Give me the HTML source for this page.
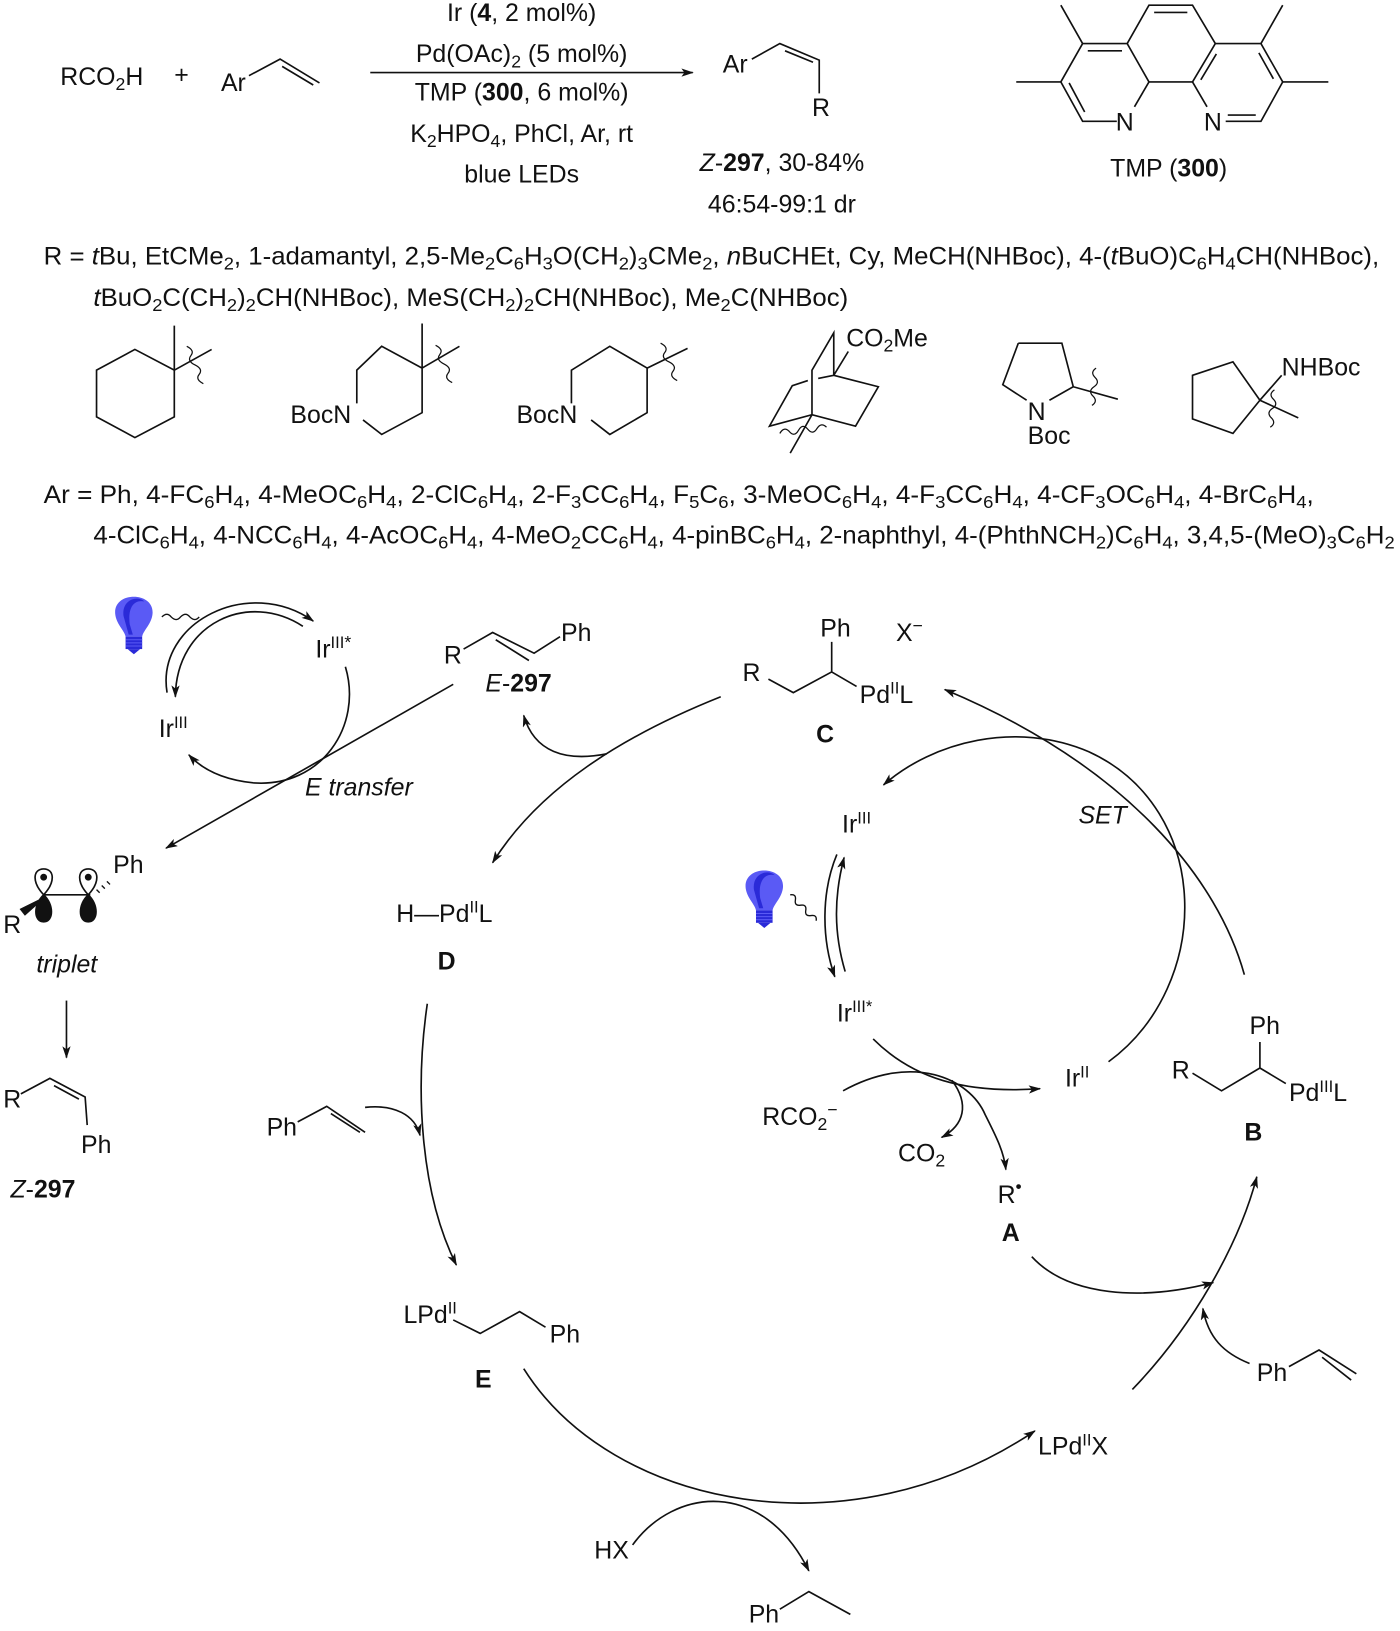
<!DOCTYPE html>
<html><head><meta charset="utf-8"><style>
html,body{margin:0;padding:0;background:#fff}
svg{display:block}
text{font-family:"Liberation Sans",Arial,sans-serif;font-size:24px;fill:#111}
.b{font-weight:bold}.i{font-style:italic}
</style></head><body>
<svg width="1400" height="1631" viewBox="0 0 1350 1573" xmlns="http://www.w3.org/2000/svg">
<defs>
<marker id="ah" viewBox="0 0 12 8" refX="11" refY="4" markerWidth="12" markerHeight="8" markerUnits="userSpaceOnUse" orient="auto"><path d="M0,0 L12,4 L0,8 L3,4 z" fill="#111"/></marker>
<g id="bulb"><path d="M-18,-6 C-20,-28 20,-28 18,-6 C17,4 9,10 8,16 L-8,16 C-9,10 -17,4 -18,-6 z" fill="#5a5af5"/><path d="M-10,-4 C-12,-20 4,-24 10,-18 C0,-20 -6,-12 -4,4 L-1,14 L-5,14 z" fill="#2a2ad8"/><rect x="-8" y="16" width="16" height="12" fill="#2a2ad8"/><path d="M-8,19 H8 M-8,22 H8 M-8,25 H8" stroke="#5a5af5" stroke-width="1"/><path d="M-6,28 L0,33 L6,28 z" fill="#2a2ad8"/></g>
</defs>
<g stroke="#111" stroke-width="1.6" fill="none">
<path d="M240,73 L270,57 L308,80 M272,64 L302,82"/>
<path d="M357,70 L668,70" marker-end="url(#ah)"/>
<path d="M725,57 L752,42 L790,58 L790,90 M757,49 L784,60"/>
<path d="M1044,42 L1087,42 L1108,79 M1094,103 L1108,79 M1077,117 L1044,117 L1023,79 L1044,42 M1049,49 L1082,49 M1031,80 L1046,108"/>
<path d="M1087,42 L1108,5 L1150,5 L1172,42 M1113,12 L1145,12 M1108,79 L1150,79"/>
<path d="M1172,42 L1216,42 L1237,79 L1216,117 L1182,117 M1150,79 L1164,103 M1150,79 L1172,42 M1214,51 L1228,76 M1184,111 L1211,111 M1158,77 L1173,52"/>
<path d="M1044,42 L1023,5 M1023,79 L980,79 M1216,42 L1237,5 M1237,79 L1281,79"/>
<path d="M130,337 L168,357 L168,402 L130,422 L93,402 L93,357 z M168,357 L168,314 M168,357 L204,337"/>
<path d="M180,334 q8,4 4,9 q-4,5 4,9 q8,4 4,9 q-4,5 4,9" stroke-width="1.2"/>
<path d="M344,389 L344,357 L368,334 L407,355 L407,398 L368,419 L350,405 M407,355 L407,312 M407,355 L443,334"/>
<path d="M420,333 q8,4 4,9 q-4,5 4,9 q8,4 4,9 q-4,5 4,9" stroke-width="1.2"/>
<path d="M551,389 L551,357 L588,334 L624,355 L624,398 L588,419 L570,405 M624,355 L663,336"/>
<path d="M637,331 q8,4 4,9 q-4,5 4,9 q8,4 4,9 q-4,5 4,9" stroke-width="1.2"/>
<path d="M804,362 L804,321 L783,357 L783,400 M804,362 L847,373 L825,411 L783,400 L742,411 L764,372 L779,367 M789,365 L804,362 M804,362 L818,339 M783,400 L762,437"/>
<path d="M752,418 q4,-7 9,-2 q5,6 9,-1 q4,-7 9,-1 q5,6 9,-1 q4,-6 9,-1" stroke-width="1.2"/>
<path d="M982,331 L1024,331 L1035,373 L1012,386 M990,386 L967,371 L982,331 M1035,373 L1078,385"/>
<path d="M1057,355 q-6,4 -1,9 q5,5 -1,9 q-6,4 -1,9 q5,5 -1,9" stroke-width="1.2"/>
<path d="M1150,362 L1189,349 L1215,386 L1189,418 L1150,404 z M1215,386 L1236,362 M1215,386 L1252,403"/>
<path d="M1229,376 q-6,4 -1,9 q5,5 -1,9 q-6,4 -1,9 q5,5 -1,9" stroke-width="1.2"/>

<path d="M156,595 q5,-5 9,0 q5,5 9,0 q5,-5 9,0 q5,5 9,0" stroke-width="1.3"/>
<path d="M161,668 C150,600 240,555 302,599" marker-end="url(#ah)"/>
<path d="M292,604 C240,570 170,600 169,672" marker-end="url(#ah)"/>
<path d="M333,643 C350,700 310,760 244,755 C215,752 195,742 182,728" marker-end="url(#ah)"/>
<path d="M437,660 L160,818" marker-end="url(#ah)"/>
<path d="M42,863 L87,863"/>
<path d="M42,863 C30,850 32,838 42,838 C52,838 54,850 42,863 z M85,863 C73,850 75,838 85,838 C95,838 97,850 85,863 z" fill="#fff"/>
<path d="M42,863 C52,872 52,889 42,889 C32,889 32,872 42,863 z M85,863 C95,872 95,889 85,889 C75,889 75,872 85,863 z" fill="#111"/>
<circle cx="42" cy="846" r="2.5" fill="#111"/><circle cx="85" cy="846" r="2.5" fill="#111"/>
<path d="M42,866 L24,882 L20,877 z" fill="#111"/>
<path d="M93,858 l3,3 M98,854 l3,3 M103,850 l3,3" stroke-width="1.3"/>
<path d="M64,965 L64,1020" marker-end="url(#ah)"/>
<path d="M20,1055 L48,1040 L82,1058 L84,1085 M52,1047 L76,1060"/>
<path d="M447,626 L475,610 L515,630 L540,614 M478,617 L510,637"/>
<path d="M585,727 C545,735 515,725 505,690" marker-end="url(#ah)"/>
<path d="M695,672 C600,710 520,760 475,832" marker-end="url(#ah)"/>
<path d="M741,655 L765,668 L802,648 L826,662 M802,648 L802,619"/>
<path d="M1200,940 C1175,850 1090,740 911,665" marker-end="url(#ah)"/>
<path d="M1069,1024 C1170,950 1170,780 1050,725 C980,695 900,715 852,757" marker-end="url(#ah)"/>
<path d="M762,863 q6,-1 5,5 q-1,6 5,5 q6,-1 5,5 q-1,6 5,5 q6,-1 5,5" stroke-width="1.3"/>
<path d="M807,824 C792,860 792,905 805,942" marker-end="url(#ah)"/>
<path d="M815,937 C804,900 804,865 814,827" marker-end="url(#ah)"/>
<path d="M842,1002 C880,1040 930,1055 1003,1050" marker-end="url(#ah)"/>
<path d="M813,1052 C880,1015 935,1040 950,1075 C960,1095 968,1110 970,1128" marker-end="url(#ah)"/>
<path d="M918,1042 C935,1065 930,1085 908,1097" marker-end="url(#ah)"/>
<path d="M995,1212 C1030,1250 1100,1255 1170,1237" marker-end="url(#ah)"/>
<path d="M1150,1035 L1178,1052 L1215,1030 L1240,1045 M1215,1030 L1215,1005"/>
<path d="M1092,1340 C1150,1280 1195,1200 1212,1135" marker-end="url(#ah)"/>
<path d="M1243,1318 L1272,1302 L1308,1325 M1275,1309 L1303,1331"/>
<path d="M1205,1315 C1180,1305 1165,1290 1160,1262" marker-end="url(#ah)"/>
<path d="M412,968 C400,1050 405,1150 440,1220" marker-end="url(#ah)"/>
<path d="M287,1082 L315,1067 L352,1092 M319,1074 L347,1092"/>
<path d="M352,1068 C380,1065 400,1075 405,1095" marker-end="url(#ah)"/>
<path d="M437,1273 L463,1286 L501,1265 L526,1280"/>
<path d="M505,1320 C590,1455 820,1500 998,1380" marker-end="url(#ah)"/>
<path d="M610,1490 C650,1435 735,1425 780,1515" marker-end="url(#ah)"/>
<path d="M752,1552 L780,1535 L820,1557"/>
</g>
<use href="#bulb" x="129" y="598"/>
<use href="#bulb" x="737" y="862"/>

<text x="58" y="82">RCO<tspan font-size="17" dy="5">2</tspan><tspan dy="-5">H</tspan></text>
<text x="168" y="80">+</text>
<text x="213" y="88">Ar</text>
<g text-anchor="middle">
<text x="503" y="20">Ir (<tspan class="b">4</tspan>, 2 mol%)</text>
<text x="503" y="60">Pd(OAc)<tspan font-size="17" dy="5">2</tspan><tspan dy="-5"> (5 mol%)</tspan></text>
<text x="503" y="97">TMP (<tspan class="b">300</tspan>, 6 mol%)</text>
<text x="503" y="137">K<tspan font-size="17" dy="5">2</tspan><tspan dy="-5">HPO</tspan><tspan font-size="17" dy="5">4</tspan><tspan dy="-5">, PhCl, Ar, rt</tspan></text>
<text x="503" y="176">blue LEDs</text>
<text x="754" y="165"><tspan class="i">Z</tspan>-<tspan class="b">297</tspan>, 30-84%</text>
<text x="754" y="205">46:54-99:1 dr</text>
<text x="1127" y="170">TMP (<tspan class="b">300</tspan>)</text>
</g>
<text x="697" y="70">Ar</text>
<text x="783" y="112">R</text>
<text x="1076" y="126">N</text>
<text x="1161" y="126">N</text>

<text x="42" y="255" textLength="1288" lengthAdjust="spacingAndGlyphs">R = <tspan class="i">t</tspan>Bu, EtCMe<tspan font-size="17" dy="5">2</tspan><tspan dy="-5">, 1-adamantyl, 2,5-Me</tspan><tspan font-size="17" dy="5">2</tspan><tspan dy="-5">C</tspan><tspan font-size="17" dy="5">6</tspan><tspan dy="-5">H</tspan><tspan font-size="17" dy="5">3</tspan><tspan dy="-5">O(CH</tspan><tspan font-size="17" dy="5">2</tspan><tspan dy="-5">)</tspan><tspan font-size="17" dy="5">3</tspan><tspan dy="-5">CMe</tspan><tspan font-size="17" dy="5">2</tspan><tspan dy="-5">, </tspan><tspan class="i">n</tspan>BuCHEt, Cy, MeCH(NHBoc), 4-(<tspan class="i">t</tspan>BuO)C<tspan font-size="17" dy="5">6</tspan><tspan dy="-5">H</tspan><tspan font-size="17" dy="5">4</tspan><tspan dy="-5">CH(NHBoc),</tspan></text>
<text x="90" y="295" textLength="728" lengthAdjust="spacingAndGlyphs"><tspan class="i">t</tspan>BuO<tspan font-size="17" dy="5">2</tspan><tspan dy="-5">C(CH</tspan><tspan font-size="17" dy="5">2</tspan><tspan dy="-5">)</tspan><tspan font-size="17" dy="5">2</tspan><tspan dy="-5">CH(NHBoc), MeS(CH</tspan><tspan font-size="17" dy="5">2</tspan><tspan dy="-5">)</tspan><tspan font-size="17" dy="5">2</tspan><tspan dy="-5">CH(NHBoc), Me</tspan><tspan font-size="17" dy="5">2</tspan><tspan dy="-5">C(NHBoc)</tspan></text>

<text x="280" y="408">BocN</text>
<text x="498" y="408">BocN</text>
<text x="816" y="334">CO<tspan font-size="17" dy="5">2</tspan><tspan dy="-5">Me</tspan></text>
<text x="991" y="405">N</text>
<text x="991" y="428">Boc</text>
<text x="1236" y="362">NHBoc</text>

<text x="42" y="485" textLength="1225" lengthAdjust="spacingAndGlyphs">Ar = Ph, 4-FC<tspan font-size="17" dy="5">6</tspan><tspan dy="-5">H</tspan><tspan font-size="17" dy="5">4</tspan><tspan dy="-5">, 4-MeOC</tspan><tspan font-size="17" dy="5">6</tspan><tspan dy="-5">H</tspan><tspan font-size="17" dy="5">4</tspan><tspan dy="-5">, 2-ClC</tspan><tspan font-size="17" dy="5">6</tspan><tspan dy="-5">H</tspan><tspan font-size="17" dy="5">4</tspan><tspan dy="-5">, 2-F</tspan><tspan font-size="17" dy="5">3</tspan><tspan dy="-5">CC</tspan><tspan font-size="17" dy="5">6</tspan><tspan dy="-5">H</tspan><tspan font-size="17" dy="5">4</tspan><tspan dy="-5">, F</tspan><tspan font-size="17" dy="5">5</tspan><tspan dy="-5">C</tspan><tspan font-size="17" dy="5">6</tspan><tspan dy="-5">, 3-MeOC</tspan><tspan font-size="17" dy="5">6</tspan><tspan dy="-5">H</tspan><tspan font-size="17" dy="5">4</tspan><tspan dy="-5">, 4-F</tspan><tspan font-size="17" dy="5">3</tspan><tspan dy="-5">CC</tspan><tspan font-size="17" dy="5">6</tspan><tspan dy="-5">H</tspan><tspan font-size="17" dy="5">4</tspan><tspan dy="-5">, 4-CF</tspan><tspan font-size="17" dy="5">3</tspan><tspan dy="-5">OC</tspan><tspan font-size="17" dy="5">6</tspan><tspan dy="-5">H</tspan><tspan font-size="17" dy="5">4</tspan><tspan dy="-5">, 4-BrC</tspan><tspan font-size="17" dy="5">6</tspan><tspan dy="-5">H</tspan><tspan font-size="17" dy="5">4</tspan><tspan dy="-5">,</tspan></text>
<text x="90" y="524" textLength="1255" lengthAdjust="spacingAndGlyphs">4-ClC<tspan font-size="17" dy="5">6</tspan><tspan dy="-5">H</tspan><tspan font-size="17" dy="5">4</tspan><tspan dy="-5">, 4-NCC</tspan><tspan font-size="17" dy="5">6</tspan><tspan dy="-5">H</tspan><tspan font-size="17" dy="5">4</tspan><tspan dy="-5">, 4-AcOC</tspan><tspan font-size="17" dy="5">6</tspan><tspan dy="-5">H</tspan><tspan font-size="17" dy="5">4</tspan><tspan dy="-5">, 4-MeO</tspan><tspan font-size="17" dy="5">2</tspan><tspan dy="-5">CC</tspan><tspan font-size="17" dy="5">6</tspan><tspan dy="-5">H</tspan><tspan font-size="17" dy="5">4</tspan><tspan dy="-5">, 4-pinBC</tspan><tspan font-size="17" dy="5">6</tspan><tspan dy="-5">H</tspan><tspan font-size="17" dy="5">4</tspan><tspan dy="-5">, 2-naphthyl, 4-(PhthNCH</tspan><tspan font-size="17" dy="5">2</tspan><tspan dy="-5">)C</tspan><tspan font-size="17" dy="5">6</tspan><tspan dy="-5">H</tspan><tspan font-size="17" dy="5">4</tspan><tspan dy="-5">, 3,4,5-(MeO)</tspan><tspan font-size="17" dy="5">3</tspan><tspan dy="-5">C</tspan><tspan font-size="17" dy="5">6</tspan><tspan dy="-5">H</tspan><tspan font-size="17" dy="5">2</tspan></text>

<text x="304" y="634">Ir<tspan font-size="16" dy="-9">III</tspan><tspan font-size="17">*</tspan></text>
<text x="153" y="711">Ir<tspan font-size="16" dy="-9">III</tspan></text>
<text x="294" y="767" class="i">E transfer</text>
<text x="428" y="640">R</text>
<text x="541" y="618">Ph</text>
<text x="468" y="667"><tspan class="i">E</tspan>-<tspan class="b">297</tspan></text>
<text x="109" y="842">Ph</text>
<text x="3" y="900">R</text>
<text x="35" y="938" class="i">triplet</text>
<text x="3" y="1068">R</text>
<text x="78" y="1112">Ph</text>
<text x="10" y="1155"><tspan class="i">Z</tspan>-<tspan class="b">297</tspan></text>
<text x="382" y="889">H—Pd<tspan font-size="16" dy="-9">II</tspan><tspan dy="9">L</tspan></text>
<text x="422" y="935" class="b">D</text>
<text x="791" y="614">Ph</text>
<text x="864" y="618">X<tspan font-size="17" dy="-9">−</tspan></text>
<text x="716" y="657">R</text>
<text x="829" y="678">Pd<tspan font-size="16" dy="-9">II</tspan><tspan dy="9">L</tspan></text>
<text x="787" y="716" class="b">C</text>
<text x="1040" y="794" class="i">SET</text>
<text x="812" y="803">Ir<tspan font-size="16" dy="-9">III</tspan></text>
<text x="807" y="985">Ir<tspan font-size="16" dy="-9">III</tspan><tspan font-size="16">*</tspan></text>
<text x="1027" y="1048">Ir<tspan font-size="16" dy="-9">II</tspan></text>
<text x="735" y="1085">RCO<tspan font-size="17" dy="5">2</tspan><tspan font-size="17" dy="-14">−</tspan></text>
<text x="866" y="1120">CO<tspan font-size="17" dy="5">2</tspan></text>
<text x="962" y="1160">R<tspan font-size="17" dy="-10">•</tspan></text>
<text x="966" y="1197" class="b">A</text>
<text x="1205" y="997">Ph</text>
<text x="1130" y="1040">R</text>
<text x="1243" y="1062">Pd<tspan font-size="16" dy="-9">III</tspan><tspan dy="9">L</tspan></text>
<text x="1200" y="1100" class="b">B</text>
<text x="257" y="1095">Ph</text>
<text x="389" y="1276">LPd<tspan font-size="16" dy="-9">II</tspan></text>
<text x="530" y="1295">Ph</text>
<text x="458" y="1338" class="b">E</text>
<text x="1001" y="1403">LPd<tspan font-size="16" dy="-9">II</tspan><tspan dy="9">X</tspan></text>
<text x="1212" y="1332">Ph</text>
<text x="573" y="1503">HX</text>
<text x="722" y="1565">Ph</text>
</svg>
</body></html>
